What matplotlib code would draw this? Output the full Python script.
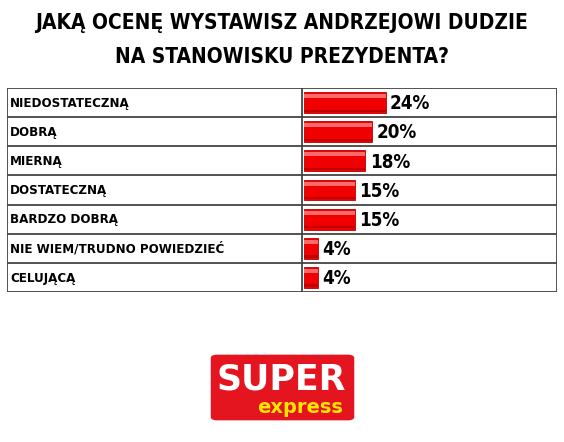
import matplotlib
matplotlib.use("Agg")
import matplotlib.pyplot as plt
from matplotlib.patches import FancyBboxPatch
from matplotlib import font_manager

# data
answers = ["NIEDOSTATECZNĄ", "DOBRĄ", "MIERNĄ", "DOSTATECZNĄ",
           "BARDZO DOBRĄ", "NIE WIEM/TRUDNO POWIEDZIEĆ", "CELUJĄCĄ"]
shares = [24, 20, 18, 15, 15, 4, 4]
title_lines = ["JAKĄ OCENĘ WYSTAWISZ ANDRZEJOWI DUDZIE", "NA STANOWISKU PREZYDENTA?"]

# look for any condensed / narrow face that is installed
cond = None
for f in font_manager.fontManager.ttflist:
    nm = f.fname.lower()
    if ("condensed" in nm or "narrow" in nm) and ("bold" in nm) and "semi" not in nm and "extra" not in nm:
        cond = f.fname
        break
if cond:
    cond_prop = font_manager.FontProperties(fname=cond)
else:
    cond_prop = font_manager.FontProperties(family="DejaVu Sans", weight="bold")

W, H = 564, 442
fig = plt.figure(figsize=(W / 100, H / 100), dpi=100)

# table area in pixels
x0, x1, xdiv = 7, 557, 302
y0, y1 = 88, 292
ax = fig.add_axes([x0 / W, 1 - y1 / H, (x1 - x0) / W, (y1 - y0) / H])
px_per_pct = 3.4
bar_start = xdiv + 2
ax.set_xlim((x0 - bar_start) / px_per_pct, (x1 - bar_start) / px_per_pct)
n = len(answers)
ax.set_ylim(n, 0)
ax.axis("off")

ypos = [i + 0.5 for i in range(n)]
ax.barh(ypos, shares, height=0.72, color="#f00000", edgecolor="#b80000", linewidth=0.6)
ax.barh([y - 0.22 for y in ypos], shares, height=0.14, color="#ff6a6a", linewidth=0)
ax.barh([y + 0.28 for y in ypos], shares, height=0.08, color="#c00000", linewidth=0)

lab_fs = 9.5 if cond else 8.5
pct_fs = 13.5 if cond else 12.5
for y, lab, v in zip(ypos, answers, shares):
    ax.text((x0 + 3 - bar_start) / px_per_pct, y + 0.02, lab, ha="left", va="center",
            fontproperties=cond_prop, fontsize=lab_fs, color="black")
    ax.text(v + 1.3, y + 0.04, f"{v}%", ha="left", va="center",
            fontproperties=cond_prop, fontsize=pct_fs, color="black")

# table grid
for i in range(n + 1):
    ax.axhline(i, color="#444444", lw=1.3)
xl = ax.get_xlim()
for xv in [xl[0], (xdiv - bar_start) / px_per_pct, xl[1]]:
    ax.axvline(xv, color="#444444", lw=1.3)

title_fs = 15 if cond else 13.5
for ty, line in zip([23, 57], title_lines):
    fig.text(0.5, 1 - ty / H, line, ha="center", va="center",
             fontproperties=cond_prop, fontsize=title_fs)

# logo
lx0, ly0, lx1, ly1 = 210, 354, 355, 421
lax = fig.add_axes([lx0 / W, 1 - ly1 / H, (lx1 - lx0) / W, (ly1 - ly0) / H])
lax.set_xlim(0, 1)
lax.set_ylim(0, 1)
lax.axis("off")
lax.add_patch(FancyBboxPatch((0.01, 0.02), 0.98, 0.96, boxstyle="round,pad=0,rounding_size=0.04",
                             color="#e4151f", transform=lax.transAxes))
lax.text(0.49, 0.62, "SUPER", ha="center", va="center", color="white", fontsize=25,
         fontweight="heavy", family="DejaVu Sans")
lax.text(0.62, 0.2, "express", ha="center", va="center", color="#ffe600", fontsize=14,
         fontweight="bold", family="DejaVu Sans")

fig.savefig("out.png", dpi=100)
